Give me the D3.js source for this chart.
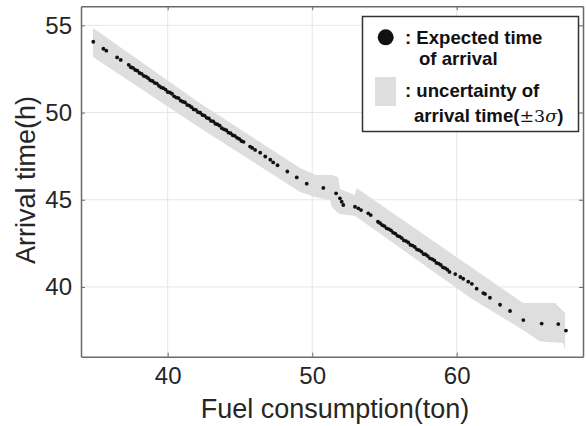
<!DOCTYPE html>
<html>
<head>
<meta charset="utf-8">
<script src="https://cdn.jsdelivr.net/npm/d3@7"></script>
<style>
    body { margin: 0; background: #fff; }
    svg text { font-family: "Liberation Sans", Arial, sans-serif; }
</style>
</head>
<body>
<svg id="chart"></svg>
<script>
// expected time of arrival
const fuel = [34.85, 35.55, 35.75, 36.5, 36.75,
    37.3, 37.45, 37.6, 37.75, 37.9, 38.05, 38.2, 38.35, 38.5, 38.65, 38.8, 38.95, 39.1, 39.25, 39.4, 39.55, 39.7, 39.85,
    40.0, 40.15, 40.3, 40.45, 40.6, 40.75, 40.9, 41.05, 41.2, 41.35, 41.5, 41.65, 41.8, 41.95, 42.1, 42.25, 42.4, 42.55,
    42.7, 42.85, 43.0, 43.15, 43.3, 43.45, 43.6, 43.75, 43.9, 44.05, 44.2, 44.35, 44.5, 44.65, 44.8, 44.95, 45.1, 45.25,
    45.7, 45.85, 46.05, 46.4, 46.75, 47.1, 47.3, 47.6, 48.28, 48.93, 49.62, 50.77, 51.65,
    51.92, 52.04, 52.15,
    52.96, 53.19, 53.38, 53.88, 54.05, 54.55,
    54.7, 54.85, 55.0, 55.15, 55.3, 55.45, 55.6, 55.75, 55.9, 56.05, 56.2, 56.35, 56.5, 56.65, 56.8, 56.95, 57.1, 57.25,
    57.4, 57.55, 57.7, 57.85, 58.0, 58.15, 58.3, 58.45, 58.6, 58.75, 58.9, 59.05, 59.2, 59.35, 59.5,
    59.9, 60.25, 60.45, 60.8, 61.05, 61.38, 61.84, 61.96, 62.3, 63.0, 63.69, 64.61, 65.88, 67.03, 67.56];
const eta = [54.06, 53.66, 53.55, 53.16, 53.02,
    52.74, 52.60, 52.56, 52.44, 52.40, 52.27, 52.22, 52.10, 52.06, 51.97, 51.85, 51.81, 51.70, 51.66, 51.53, 51.44, 51.40, 51.32,
    51.18, 51.15, 51.08, 50.93, 50.86, 50.83, 50.68, 50.62, 50.58, 50.44, 50.40, 50.31, 50.18, 50.16, 50.02, 49.99, 49.86, 49.83,
    49.70, 49.66, 49.52, 49.50, 49.36, 49.32, 49.25, 49.10, 49.04, 48.99, 48.85, 48.82, 48.70, 48.66, 48.55, 48.49, 48.37, 48.32,
    48.05, 47.97, 47.86, 47.70, 47.48, 47.30, 47.14, 46.98, 46.62, 46.28, 45.92, 45.68, 45.37,
    45.08, 44.89, 44.70,
    44.60, 44.51, 44.41, 44.22, 44.12, 43.74,
    43.66, 43.54, 43.49, 43.36, 43.32, 43.25, 43.11, 43.06, 42.93, 42.89, 42.80, 42.67, 42.63, 42.55, 42.41, 42.37, 42.29, 42.15,
    42.11, 42.03, 41.89, 41.86, 41.77, 41.64, 41.60, 41.52, 41.38, 41.34, 41.26, 41.12, 41.08, 40.99, 40.86,
    40.74, 40.57, 40.47, 40.30, 40.18, 39.90, 39.65, 39.60, 39.38, 38.98, 38.62, 38.10, 37.90, 37.87, 37.50];

// +-3 sigma band outline
const bandFuel = [34.83, 42.24, 49.16, 50.26, 51.23, 51.35, 51.79, 51.92, 52.96, 53.07, 61.06, 64.59, 65.77, 66.80, 67.36, 67.50];
const bandUpper = [54.85, 50.54, 46.82, 46.42, 46.42, 46.42, 46.30, 45.61, 45.27, 45.67, 41.10, 39.08, 39.08, 39.08, 38.62, 38.50];
const bandLower = [53.18, 49.11, 45.45, 45.15, 44.98, 44.58, 44.24, 44.18, 44.07, 44.01, 39.31, 37.53, 36.87, 36.81, 36.78, 36.38];

const xTicks = [40, 50, 60];
const yTicks = [40, 45, 50, 55];

function drawChart() {
    const width = 586, height = 426;
    const svg = d3.select("#chart").attr("width", width).attr("height", height);

    const x = d3.scaleLinear().domain([34, 68.74]).range([81, 583]);
    const y = d3.scaleLinear().domain([36, 56.1]).range([356.7, 6.2]);

    // grid
    svg.append("g").selectAll("line").data(xTicks).enter().append("line")
        .attr("x1", d => x(d)).attr("x2", d => x(d))
        .attr("y1", y.range()[0]).attr("y2", y.range()[1])
        .attr("stroke", "#e6e6e6").attr("stroke-width", 1);
    svg.append("g").selectAll("line").data(yTicks).enter().append("line")
        .attr("y1", d => y(d)).attr("y2", d => y(d))
        .attr("x1", x.range()[0]).attr("x2", x.range()[1])
        .attr("stroke", "#e6e6e6").attr("stroke-width", 1);

    // uncertainty band
    const band = bandFuel.map((f, i) => ({ f, hi: bandUpper[i], lo: bandLower[i] }));
    svg.append("path")
        .datum(band)
        .attr("fill", "#dedede")
        .attr("d", d3.area().x(d => x(d.f)).y0(d => y(d.lo)).y1(d => y(d.hi)));

    // expected arrival points
    svg.append("g").selectAll("circle")
        .data(fuel.map((f, i) => ({ f, t: eta[i] })))
        .enter().append("circle")
        .attr("cx", d => x(d.f))
        .attr("cy", d => y(d.t))
        .attr("r", 1.9)
        .attr("fill", "#111");

    // axes (box style)
    const axisColor = "#6a6a6a";
    const bottom = svg.append("g").attr("transform", `translate(0,${y.range()[0]})`)
        .call(d3.axisBottom(x).tickValues(xTicks).tickSizeInner(-4).tickSizeOuter(0).tickPadding(10));
    const top = svg.append("g").attr("transform", `translate(0,${y.range()[1]})`)
        .call(d3.axisTop(x).tickValues(xTicks).tickSizeInner(-4).tickSizeOuter(0).tickFormat(""));
    const left = svg.append("g").attr("transform", `translate(${x.range()[0]},0)`)
        .call(d3.axisLeft(y).tickValues(yTicks).tickSizeInner(-4).tickSizeOuter(0).tickPadding(9));
    const right = svg.append("g").attr("transform", `translate(${x.range()[1]},0)`)
        .call(d3.axisRight(y).tickValues(yTicks).tickSizeInner(-4).tickSizeOuter(0).tickFormat(""));

    [bottom, top, left, right].forEach(g => {
        g.select(".domain").attr("stroke", axisColor).attr("stroke-width", 1.5);
        g.selectAll(".tick line").attr("stroke", axisColor);
        g.selectAll("text").style("font-size", "24px").attr("fill", "#262626")
            .style("font-family", "Liberation Sans, Arial, sans-serif");
    });

    svg.append("text")
        .attr("x", 335).attr("y", 418)
        .attr("text-anchor", "middle")
        .style("font-size", "27px").attr("fill", "#262626")
        .text("Fuel consumption(ton)");

    svg.append("text")
        .attr("transform", "translate(35,180) rotate(-90)")
        .attr("text-anchor", "middle")
        .style("font-size", "27px").attr("fill", "#262626")
        .text("Arrival time(h)");

    // legend
    const lg = svg.append("g");
    lg.append("rect")
        .attr("x", 362.5).attr("y", 16.5).attr("width", 216).attr("height", 115)
        .attr("fill", "#fff").attr("stroke", "#333").attr("stroke-width", 1.5);
    lg.append("circle").attr("cx", 385.7).attr("cy", 37.3).attr("r", 8).attr("fill", "#111");
    lg.append("rect").attr("x", 375).attr("y", 77).attr("width", 21).attr("height", 29).attr("fill", "#dedede");

    const legendText = (tx, ty, s) => lg.append("text")
        .attr("x", tx).attr("y", ty)
        .style("font-size", "18.6px").style("font-weight", "bold").attr("fill", "#111")
        .text(s);
    legendText(405, 43.5, ": Expected time");
    legendText(419, 65, "of arrival");
    legendText(405, 96.5, ": uncertainty of");
    const last = legendText(414, 121.5, "arrival time(");
    last.append("tspan").style("font-weight", "normal").style("font-family", "DejaVu Serif, serif")
        .style("font-size", "17.5px").text("±3");
    last.append("tspan").style("font-weight", "normal").style("font-style", "italic")
        .style("font-family", "DejaVu Serif, serif").style("font-size", "17.5px").text("σ");
    last.append("tspan").text(")");
}

document.addEventListener("DOMContentLoaded", drawChart);
</script>
</body>
</html>
